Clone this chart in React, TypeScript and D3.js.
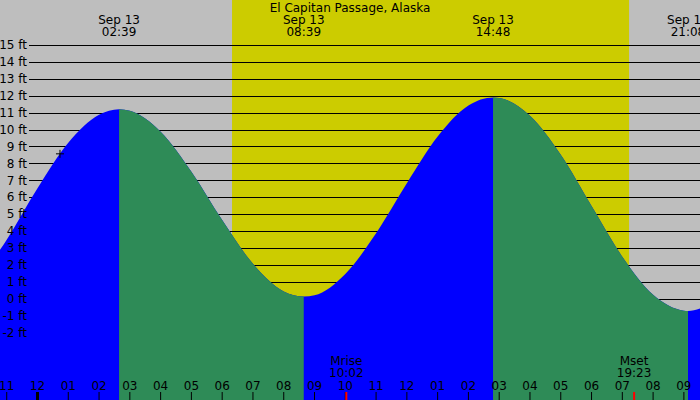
import * as d3 from 'd3';

const title = 'El Capitan Passage, Alaska';

// hours from midnight Sep 13, heights in ft
const tideHours = [-2, -1, 0, 1, 2, 2.65, 3, 4, 5, 6, 7, 8, 8.65, 9, 10, 11, 12, 13, 14, 14.8, 15, 16, 17, 18, 19, 20, 21, 21.133, 22];
const tideFeet = [0.87, 3.48, 6.52, 9.21, 10.87, 11.2, 11.11, 9.87, 7.5, 4.64, 2.05, 0.42, 0.12, 0.19, 1.45, 3.86, 6.82, 9.58, 11.42, 11.9, 11.87, 10.81, 8.5, 5.47, 2.47, 0.22, -0.72, -0.74, -0.19];

const extremeHours = [2.65, 8.65, 14.8, 21.133];
const extremeDates = ['Sep 13', 'Sep 13', 'Sep 13', 'Sep 13'];
const extremeTimes = ['02:39', '08:39', '14:48', '21:08'];
const fallingSpans = [[2.65, 8.65], [14.8, 21.133]];

const sunrise = 6.32;
const sunset = 19.22;

const moonNames = ['Mrise', 'Mset'];
const moonHours = [10.033, 19.383];
const moonTimes = ['10:02', '19:23'];

const hourTicks = d3.range(-1, 22);
const hourLabels = ['11', '12', '01', '02', '03', '04', '05', '06', '07', '08', '09', '10', '11', '12', '01', '02', '03', '04', '05', '06', '07', '08', '09'];
const footTicks = d3.range(-2, 16);

const nowHour = 0.73;
const nowFeet = 8.56;

const width = 700;
const height = 400;
const font = 'DejaVu Sans';

export default function App() {
  const pxPerHour = 30.78;
  const x = d3.scaleLinear([-37.5 / pxPerHour, (width - 37.5) / pxPerHour], [0, width]);
  const y = d3.scaleLinear([0, 15], [298.5, 45]);

  const pts = tideHours.map((h, i) => [h, tideFeet[i]] as [number, number]);
  const area = d3
    .area<[number, number]>()
    .x((d) => x(d[0]))
    .y0(height)
    .y1((d) => y(d[1]))
    .curve(d3.curveMonotoneX);
  const areaPath = area(pts) ?? '';

  return (
    <svg
      width={width}
      height={height}
      style={{ position: 'absolute', left: 0, top: 0 }}
      fontFamily={font}
    >
      <defs>
        <clipPath id='falling'>
          {fallingSpans.map(([a, b], i) => (
            <rect key={i} x={x(a)} y={0} width={x(b) - x(a)} height={height} />
          ))}
        </clipPath>
      </defs>
      <rect width={width} height={height} fill='#bebebe' />
      <rect x={x(sunrise)} y={0} width={x(sunset) - x(sunrise)} height={height} fill='#cccc00' />

      <g stroke='black' strokeWidth={1} shapeRendering='crispEdges'>
        {footTicks.map((f) => (
          <line key={f} x1={29} x2={width} y1={Math.round(y(f)) + 0.5} y2={Math.round(y(f)) + 0.5} />
        ))}
      </g>

      <path d={areaPath} fill='#0000ff' />
      <path d={areaPath} fill='#2e8b57' clipPath='url(#falling)' />

      <g fontSize={12} textAnchor='end' fill='black'>
        {footTicks.map((f) => (
          <text key={f} x={27} y={y(f)} dy='0.36em'>
            {f} ft
          </text>
        ))}
      </g>

      <text x={350} y={12} fontSize={12} textAnchor='middle'>
        {title}
      </text>

      <g fontSize={12} textAnchor='middle'>
        {extremeHours.map((h, i) => (
          <g key={i}>
            <text x={x(h)} y={24}>
              {extremeDates[i]}
            </text>
            <text x={x(h)} y={36}>
              {extremeTimes[i]}
            </text>
          </g>
        ))}
      </g>

      <g fontSize={12} textAnchor='middle'>
        {hourTicks.map((h, i) => (
          <g key={h}>
            <text x={x(h)} y={390}>
              {hourLabels[i]}
            </text>
            <line
              x1={x(h)}
              x2={x(h)}
              y1={392}
              y2={height}
              stroke='black'
              strokeWidth={h === 0 ? 3 : 1}
            />
          </g>
        ))}
      </g>

      <g fontSize={12} textAnchor='middle'>
        {moonHours.map((h, i) => (
          <g key={i}>
            <text x={x(h)} y={365}>
              {moonNames[i]}
            </text>
            <text x={x(h)} y={377}>
              {moonTimes[i]}
            </text>
            <line x1={x(h)} x2={x(h)} y1={392} y2={height} stroke='red' strokeWidth={2} />
          </g>
        ))}
      </g>

      <g stroke='black' strokeWidth={1}>
        <line x1={x(nowHour) - 4} x2={x(nowHour) + 4} y1={y(nowFeet)} y2={y(nowFeet)} />
        <line x1={x(nowHour)} x2={x(nowHour)} y1={y(nowFeet) - 4} y2={y(nowFeet) + 4} />
      </g>
    </svg>
  );
}
